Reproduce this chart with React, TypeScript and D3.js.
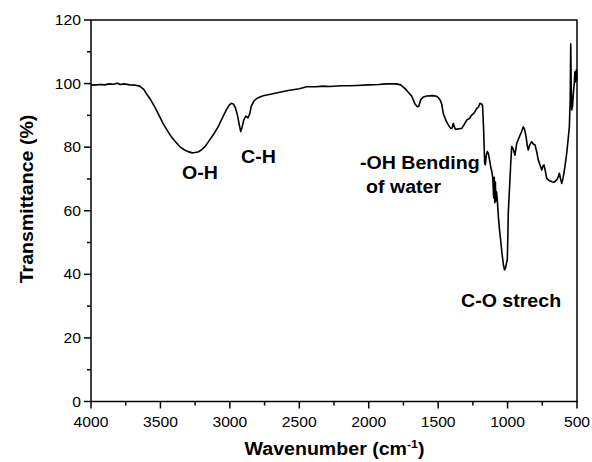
import React from 'react';
import * as d3 from 'd3';

// FTIR spectrum
const wavenumbers = [
  4000, 3960, 3930, 3900, 3870, 3840, 3810, 3790, 3760, 3720, 3680, 3650, 3620, 3602, 3570, 3541, 3510,
  3481, 3450, 3422, 3390, 3361, 3330, 3301, 3270, 3253, 3230, 3205, 3175, 3145, 3115, 3085, 3055, 3026,
  3005, 2990, 2975, 2960, 2945, 2932, 2922, 2912, 2900, 2885, 2870, 2858, 2845, 2825, 2800, 2760, 2700,
  2640, 2580, 2500, 2447, 2380, 2330, 2279, 2200, 2140, 2087, 2000, 1930, 1871, 1800, 1770, 1740, 1715,
  1690, 1667, 1650, 1640, 1625, 1605, 1582, 1540, 1510, 1499, 1485, 1474, 1463, 1445, 1427, 1410, 1400,
  1391, 1380, 1371, 1350, 1330, 1310, 1294, 1275, 1258, 1240, 1222, 1210, 1199, 1185, 1180, 1172, 1165,
  1160, 1153, 1146, 1138, 1128, 1120, 1112, 1106, 1100, 1096, 1092, 1088, 1084, 1080, 1074, 1066, 1058,
  1050, 1040, 1030, 1022, 1015, 1008, 1002, 998, 995, 989, 983, 977, 970, 960, 947, 940, 934, 922, 910,
  898, 887, 877, 867, 858, 851, 840, 826, 815, 802, 790, 779, 767, 754, 746, 738, 728, 718, 700, 682,
  665, 646, 636, 627, 618, 610, 602, 594, 585, 574, 565, 555, 549, 545, 542, 538, 532, 526, 520, 515,
  510, 505, 500,
];
const transmittance = [
  99.5, 99.6, 99.7, 99.6, 99.9, 99.8, 100.1, 99.7, 99.9, 99.6, 99.5, 99.2, 98.2, 96.9, 94.9, 92.7, 90.0,
  87.5, 85.2, 83.3, 81.6, 80.2, 79.2, 78.6, 78.2, 78.3, 78.5, 79.1, 80.4, 82.3, 84.2, 86.4, 89.1, 91.7,
  93.2, 93.8, 93.6, 92.4, 90.0, 87.0, 84.9, 86.3, 88.5, 89.8, 89.2, 90.3, 93.0, 94.6, 95.5, 96.2, 96.7,
  97.3, 97.8, 98.4, 99.0, 99.0, 99.2, 99.1, 99.3, 99.3, 99.4, 99.6, 99.7, 99.9, 99.9, 99.6, 98.5, 97.3,
  96.0, 93.6, 92.7, 92.8, 95.0, 95.8, 96.1, 96.2, 96.0, 95.6, 94.8, 93.5, 90.6, 88.5, 87.0, 85.9, 86.0,
  87.5, 86.0, 85.6, 85.8, 85.9, 87.3, 88.5, 89.0, 90.1, 90.8, 92.2, 92.6, 93.8, 93.5, 93.0, 85.0, 75.0,
  74.5, 77.5, 78.6, 78.0, 75.5, 73.5, 72.0, 70.0, 64.0, 70.5, 62.5, 69.0, 63.0, 66.0, 63.4, 58.0, 54.0,
  50.8, 46.5, 43.0, 41.4, 42.0, 43.5, 44.5, 52.0, 59.2, 64.5, 69.7, 75.0, 80.2, 79.5, 77.5, 79.5, 81.2,
  82.5, 83.8, 85.0, 86.4, 85.5, 83.3, 80.5, 79.1, 80.8, 81.7, 81.0, 80.7, 78.5, 76.0, 74.5, 72.8, 74.0,
  74.4, 72.5, 70.2, 69.5, 69.1, 69.0, 69.7, 70.5, 71.8, 70.0, 68.6, 70.0, 71.8, 74.5, 78.1, 82.0, 86.4,
  95.0, 112.5, 100.0, 91.7, 93.0, 97.0, 100.0, 103.7, 100.5, 104.3, 101.0,
];

const xTicks = [4000, 3500, 3000, 2500, 2000, 1500, 1000, 500];
const xMinor = [3750, 3250, 2750, 2250, 1750, 1250, 750];
const yTicks = [0, 20, 40, 60, 80, 100, 120];
const yMinor = [10, 30, 50, 70, 90, 110];

const labels = [
  { text: 'O-H', x: 182, y: 179 },
  { text: 'C-H', x: 241, y: 163 },
  { text: '-OH Bending', x: 360, y: 169 },
  { text: 'of water', x: 366, y: 192.5 },
  { text: 'C-O strech', x: 461, y: 306.5 },
];

const SX = 1.12; // the picture is slightly stretched horizontally
const FONT = '"Liberation Sans", Arial, sans-serif';

const W = 592;
const H = 462;
const left = 91, right = 577, top = 20, bottom = 401.5;

export default function App() {
  const x = d3.scaleLinear().domain([4000, 500]).range([left, right]);
  const y = d3.scaleLinear().domain([0, 120]).range([bottom, top]);

  const pts = wavenumbers.map((w, i) => [w, transmittance[i]] as [number, number]);
  const line = d3.line<[number, number]>()
    .x(d => x(d[0]))
    .y(d => y(d[1]))
    .curve(d3.curveLinear);

  return (
    <svg width={W} height={H} style={{ position: 'absolute', left: 0, top: 0, background: '#fff' }}
      fontFamily={FONT}>
      <rect x={left} y={top} width={right - left} height={bottom - top}
        fill="none" stroke="#000" strokeWidth={1.5} />

      {yTicks.map(t => (
        <g key={'y' + t}>
          <line x1={left - 7} x2={left} y1={y(t)} y2={y(t)} stroke="#000" strokeWidth={1.5} />
          <text transform={`translate(${left - 10},${y(t) + 5}) scale(${SX},1)`}
            textAnchor="end" fontSize={14}>{t}</text>
        </g>
      ))}
      {yMinor.map(t => (
        <line key={'ym' + t} x1={left - 4} x2={left} y1={y(t)} y2={y(t)} stroke="#000" strokeWidth={1.5} />
      ))}

      {xTicks.map(t => (
        <g key={'x' + t}>
          <line x1={x(t)} x2={x(t)} y1={bottom} y2={bottom + 7} stroke="#000" strokeWidth={1.5} />
          <text transform={`translate(${x(t)},${426.5}) scale(${SX},1)`}
            textAnchor="middle" fontSize={14}>{t}</text>
        </g>
      ))}
      {xMinor.map(t => (
        <line key={'xm' + t} x1={x(t)} x2={x(t)} y1={bottom} y2={bottom + 4} stroke="#000" strokeWidth={1.5} />
      ))}

      <path d={line(pts) || ''} fill="none" stroke="#000" strokeWidth={1.6} strokeLinejoin="round" />

      {labels.map(l => (
        <text key={l.text} transform={`translate(${l.x},${l.y}) scale(${SX},1)`}
          fontSize={17.5} fontWeight="bold">{l.text}</text>
      ))}

      <text transform={`translate(33,199) rotate(-90) scale(${SX},1)`}
        textAnchor="middle" fontSize={17.5} fontWeight="bold">Transmittance (%)</text>

      <text transform={`translate(334.5,455) scale(${SX},1)`} textAnchor="middle"
        fontSize={17.5} fontWeight="bold">
        <tspan>Wavenumber (cm</tspan>
        <tspan dy={-7} fontSize={11}>-1</tspan>
        <tspan dy={7}>)</tspan>
      </text>
    </svg>
  );
}
